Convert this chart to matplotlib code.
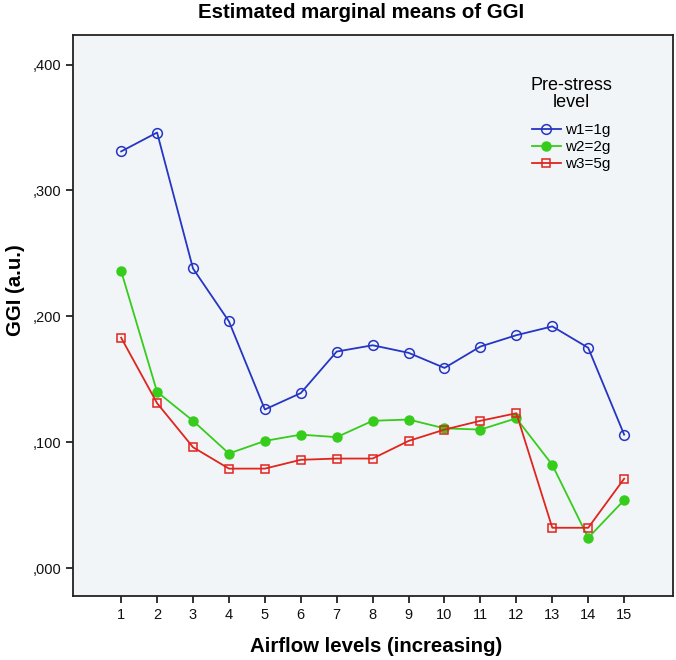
import matplotlib
matplotlib.use("Agg")
import matplotlib.pyplot as plt
from matplotlib.ticker import FuncFormatter

plt.rcParams["font.family"] = ["Liberation Sans", "DejaVu Sans"]

# -----------------------------------------------------
#   DATA
# -----------------------------------------------------
airflow = list(range(1, 16))
w1_1g = [0.331, 0.346, 0.238, 0.196, 0.126, 0.139, 0.172, 0.177, 0.171,
         0.159, 0.176, 0.185, 0.192, 0.175, 0.106]
w2_2g = [0.236, 0.140, 0.117, 0.091, 0.101, 0.106, 0.104, 0.117, 0.118,
         0.111, 0.110, 0.119, 0.082, 0.024, 0.054]
w3_5g = [0.183, 0.131, 0.096, 0.079, 0.079, 0.086, 0.087, 0.087, 0.101,
         0.110, 0.117, 0.123, 0.032, 0.032, 0.071]
y_ticks = [0.0, 0.1, 0.2, 0.3, 0.4]

BLUE = "#2535c4"
GREEN = "#36cc1c"
RED = "#e0241e"

# -----------------------------------------------------
#   FIGURE
# -----------------------------------------------------
fig = plt.figure(figsize=(6.76, 6.60), dpi=100)
ax = fig.add_axes([73 / 676, 64 / 660, 600 / 676, 561 / 660])
ax.set_facecolor("#f2f5f7")

ax.plot(airflow, w1_1g, color=BLUE, lw=1.3, marker="o", ms=7,
        mfc="none", mec=BLUE, mew=1.1, label="w1=1g")
ax.plot(airflow, w2_2g, color=GREEN, lw=1.3, marker="o", ms=6.5,
        mfc=GREEN, mec=GREEN, label="w2=2g")
ax.plot(airflow, w3_5g, color=RED, lw=1.3, marker="s", ms=5.5,
        mfc="none", mec=RED, mew=1.1, label="w3=5g")

ax.set_xlim(-0.34, 16.36)
ax.set_ylim(-0.0222, 0.4235)
ax.set_xticks(airflow)
ax.set_yticks(y_ticks)
ax.yaxis.set_major_formatter(FuncFormatter(lambda v, p: ("%.3f" % v).replace("0.", ",", 1)))
ax.tick_params(direction="out", length=5, width=1.2, labelsize=10.5, colors="#111111")

for sp in ax.spines.values():
    sp.set_linewidth(1.3)
    sp.set_color("#222222")

leg = ax.legend(title="Pre-stress\nlevel", frameon=False, loc="upper center",
                bbox_to_anchor=(571 / 676, 1 - 69 / 660),
                bbox_transform=fig.transFigure, fontsize=11,
                title_fontsize=13, handlelength=1.9, handletextpad=0.3,
                labelspacing=0.2, borderpad=0)
leg.get_title().set_multialignment("center")
leg.get_title().set_linespacing(1.0)
leg._legend_box.sep = 9

fig.text(361 / 676, 1 - 13 / 660, "Estimated marginal means of GGI",
         ha="center", va="center", fontsize=14.7, fontweight="bold")
fig.text(376 / 676, 1 - 647 / 660, "Airflow levels (increasing)",
         ha="center", va="center", fontsize=14.7, fontweight="bold")
fig.text(16 / 676, 1 - 290 / 660, "GGI (a.u.)", rotation=90,
         ha="center", va="center", fontsize=14.7, fontweight="bold")

fig.savefig("out.png", dpi=100)
